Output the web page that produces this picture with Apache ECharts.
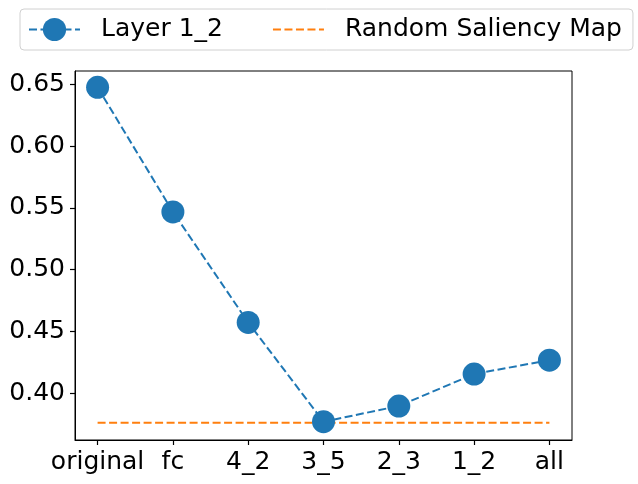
<!DOCTYPE html>
<html>
<head>
<meta charset="utf-8">
<script src="https://cdn.jsdelivr.net/npm/echarts@6/dist/echarts.min.js"></script>
<style>
  html, body { margin: 0; padding: 0; background: #fff; }
  #chart { width: 638px; height: 484px; }
</style>
</head>
<body>
<div id="chart"></div>
<script>
// categories along x
const layers = ['original', 'fc', '4_2', '3_5', '2_3', '1_2', 'all']
// Layer 1_2 scores
const layerScores = [0.6476, 0.5468, 0.4573, 0.3770, 0.3897, 0.4156, 0.4268]
// random saliency map baseline
const randomScore = 0.3762
const yTicks = [0.40, 0.45, 0.50, 0.55, 0.60, 0.65]

const font = 'DejaVu Sans'
const chart = echarts.init(document.getElementById('chart'))

const idx = layers.map((_, i) => i)

const option = {
  animation: false,
  backgroundColor: '#fff',
  textStyle: { fontFamily: font },
  grid: {
    left: 75,
    right: 66,
    top: 71,
    bottom: 44,
    show: true,
    borderColor: '#000',
    borderWidth: 1
  },
  legend: {
    left: 20,
    top: 9,
    padding: [8, 11, 8, 8],
    itemWidth: 51,
    itemHeight: 29,
    itemGap: 49,
    borderColor: '#d0d0d0',
    borderWidth: 1,
    borderRadius: 4,
    textStyle: {
      fontFamily: font,
      fontSize: 25,
      color: '#000',
      padding: [0, 0, 0, 16]
    },
    data: [
      'Layer 1_2',
      // baseline has no marker, hide the legend symbol
      { name: 'Random Saliency Map', itemStyle: { opacity: 0 } }
    ]
  },
  xAxis: {
    type: 'value',
    min: -0.3,
    max: 6.3,
    splitLine: { show: false },
    axisLine: { show: true, onZero: false, lineStyle: { color: '#000' } },
    axisTick: {
      show: true,
      inside: false,
      length: 5,
      lineStyle: { color: '#000', width: 1.2 },
      customValues: idx
    },
    axisLabel: {
      customValues: idx,
      margin: 10,
      fontSize: 25,
      fontFamily: font,
      color: '#000',
      formatter: v => layers[Math.round(v)]
    }
  },
  yAxis: {
    type: 'value',
    min: 0.3622,
    max: 0.6608,
    splitLine: { show: false },
    axisLine: { show: true, onZero: false, lineStyle: { color: '#000' } },
    axisTick: {
      show: true,
      inside: false,
      length: 5,
      lineStyle: { color: '#000', width: 1.2 },
      customValues: yTicks
    },
    axisLabel: {
      customValues: yTicks,
      margin: 10,
      fontSize: 25,
      fontFamily: font,
      color: '#000',
      formatter: v => v.toFixed(2)
    }
  },
  series: [
    {
      name: 'Layer 1_2',
      type: 'line',
      data: layerScores.map((v, i) => [i, v]),
      symbol: 'circle',
      symbolSize: 23,
      color: '#1f77b4',
      itemStyle: { color: '#1f77b4' },
      lineStyle: { color: '#1f77b4', width: 2, type: [8, 3.5] },
      z: 3
    },
    {
      name: 'Random Saliency Map',
      type: 'line',
      data: [[0, randomScore], [layers.length - 1, randomScore]],
      symbol: 'none',
      color: '#ff7f0e',
      lineStyle: { color: '#ff7f0e', width: 2, type: [8, 3.5] },
      z: 2
    }
  ]
}

chart.setOption(option)
</script>
</body>
</html>
